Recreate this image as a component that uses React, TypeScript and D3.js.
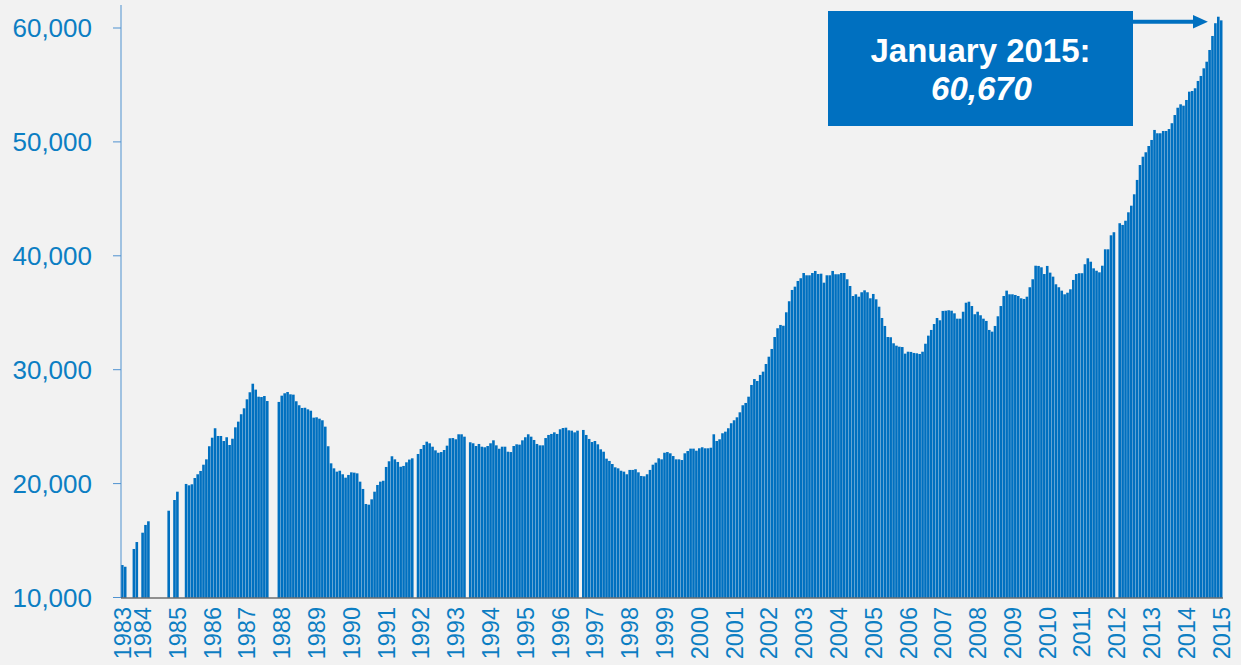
import React from "react";
import * as d3 from "d3";

// Monthly series, June 1983 .. January 2015 (null = no bar)
const START_YEAR = 1983;
const START_MONTH = 6;
const values: (number | null)[] = [
  // 1983 Jun-Dec
  12850, 12700, null, null, 14260, 14870, null,
  // 1984
  15690, 16370, 16690, null, null, null, null, null, null, 17620, null, 18560,
  // 1985
  19290, null, null, 19970, 19850, 19940, 20490, 20820, 21110, 21660, 22130, 23280,
  // 1986
  24030, 24860, 24180, 24180, 23740, 24070, 23390, 23940, 24940, 25440, 26090, 26610,
  // 1987
  27400, 28020, 28770, 28250, 27630, 27600, 27690, 27250, null, null, null, 27170,
  // 1988
  27720, 27930, 28040, 27840, 27810, 27230, 26880, 26640, 26660, 26520, 26400, 25790,
  // 1989
  25820, 25700, 25560, 25000, 23280, 21780, 21340, 21050, 21130, 20820, 20520, 20760,
  // 1990
  20990, 20960, 20900, 20170, 19530, 18210, 18150, 18620, 19290, 19880, 20170, 20250,
  // 1991
  21460, 21960, 22400, 22130, 21900, 21480, 21550, 21870, 22110, 22220, null, 22600,
  // 1992
  23040, 23390, 23680, 23540, 23240, 22920, 22710, 22770, 22950, 23330, 23980, 24000,
  // 1993
  23890, 24330, 24330, 24120, null, 23630, 23540, 23300, 23480, 23240, 23190, 23300,
  // 1994
  23540, 23800, 23360, 23060, 23240, 23240, 22800, 22770, 23300, 23450, 23420, 23800,
  // 1995
  24070, 24330, 24120, 23830, 23480, 23360, 23360, 24000, 24270, 24360, 24500, 24360,
  // 1996
  24770, 24880, 24910, 24680, 24650, 24500, 24650, null, 24710, 24270, 23920, 23650,
  // 1997
  23740, 23450, 23010, 22800, 22190, 21990, 21720, 21430, 21340, 21130, 21050, 20820,
  // 1998
  21200, 21200, 21260, 20990, 20670, 20640, 20820, 21200, 21660, 21840, 22220, 22130,
  // 1999
  22710, 22770, 22660, 22420, 22130, 22130, 22070, 22660, 22860, 23070, 23070, 22890,
  // 2000
  23100, 23190, 23100, 23100, 23150, 24330, 23740, 23890, 24420, 24560, 24860, 25300,
  // 2001
  25560, 25820, 26260, 26880, 27080, 27630, 28660, 29180, 29010, 29540, 29830, 30500,
  // 2002
  31140, 31820, 32870, 33640, 33930, 33860, 35040, 36010, 37000, 37290, 37790, 38030,
  // 2003
  38490, 38290, 38290, 38490, 38670, 38400, 38430, 37640, 38290, 38290, 38670, 38380,
  // 2004
  38380, 38490, 38490, 37940, 37350, 36470, 36620, 36410, 36800, 36970, 36800, 36270,
  // 2005
  36650, 36180, 35530, 34540, 33840, 32870, 32850, 32320, 32110, 32020, 31990, 31410,
  // 2006
  31580, 31560, 31470, 31440, 31380, 31580, 32280, 32990, 33490, 34010, 34540, 34340,
  // 2007
  35160, 35180, 35220, 35180, 34950, 34480, 34480, 35090, 35880, 35970, 35590, 34870,
  // 2008
  35090, 34780, 34480, 34280, 33490, 33340, 33840, 34690, 35590, 36470, 36940, 36620,
  // 2009
  36620, 36560, 36470, 36270, 36210, 36410, 37240, 37940, 39130, 39110, 38990, 38400,
  // 2010
  39110, 38520, 38170, 37500, 37240, 36940, 36620, 36760, 37060, 37880, 38400, 38470,
  // 2011
  38470, 39260, 39780, 39480, 38900, 38690, 38550, 39130, 40570, 40570, 41800, 42070,
  // 2012
  null, 42860, 42710, 43080, 43820, 44400, 45400, 46660, 47970, 48700, 49090, 49640,
  // 2013
  50170, 51050, 50760, 50760, 50960, 50960, 51130, 51640, 52360, 53000, 53300, 53180,
  // 2014
  53680, 54410, 54470, 54710, 55350, 55790, 56460, 57040, 58070, 59300, 60420, 60990,
  // 2015 Jan
  60670,
];

const categories: string[] = values.map((_, i) => {
  const m = START_MONTH - 1 + i;
  return `${START_YEAR + Math.floor(m / 12)}-${String((m % 12) + 1).padStart(2, "0")}`;
});

const yearLabels: string[] = d3.range(1983, 2016).map(String);
const yTicks: number[] = [10000, 20000, 30000, 40000, 50000, 60000];
const calloutTitle = "January 2015:";
const calloutValue = "60,670";

const W = 1241;
const H = 665;
const FONT = "'Liberation Sans', Arial, Helvetica, sans-serif";
const BAR = "#0070C0";
const LABEL = "#0C7EC3";

export default function App() {
  const x = d3
    .scaleBand<number>()
    .domain(d3.range(values.length))
    .range([121, 1222.5])
    .paddingInner(0.1)
    .paddingOuter(0);
  const y = d3.scaleLinear().domain([10000, 60000]).range([597.5, 28]);
  const fmt = d3.format(",");

  const labelIndex = (yr: string) =>
    yr === String(START_YEAR) ? 0 : categories.indexOf(`${yr}-01`);

  const last = values.length - 1;

  return (
    <div style={{ position: "absolute", left: 0, top: 0 }}>
      <svg width={W} height={H} style={{ display: "block", background: "#F2F2F2" }}>
        <rect x={0} y={0} width={W} height={H} fill="#F2F2F2" />
        {/* bars */}
        <g>
          {values.map((v, i) =>
            v == null ? null : (
              <rect
                key={i}
                x={x(i)}
                y={y(v)}
                width={x.bandwidth()}
                height={y(10000) - y(v)}
                fill={BAR}
              />
            )
          )}
        </g>
        {/* y axis */}
        <line x1={121} x2={121} y1={5} y2={598} stroke="#4F92D0" strokeWidth={1} />
        {yTicks.map((t) => (
          <g key={t}>
            <line x1={113} x2={121} y1={y(t)} y2={y(t)} stroke="#4F92D0" strokeWidth={1} />
            <text
              x={92}
              y={y(t)}
              dy="0.36em"
              textAnchor="end"
              fontFamily={FONT}
              fontSize={26}
              fill={LABEL}
            >
              {fmt(t)}
            </text>
          </g>
        ))}
        {/* x axis */}
        <line x1={121} x2={1223} y1={598} y2={598} stroke="#2e2e2e" strokeWidth={1} />
        {yearLabels.map((yr) => {
          const i = labelIndex(yr);
          const cx = (x(i) as number) + x.bandwidth() / 2;
          return (
            <text
              key={yr}
              transform={`translate(${cx},607) rotate(-90)`}
              dy="0.36em"
              textAnchor="end"
              fontFamily={FONT}
              fontSize={23.5}
              fill={LABEL}
            >
              {yr}
            </text>
          );
        })}
        {/* callout */}
        <rect x={828} y={11} width={305} height={115} fill={BAR} />
        <text
          x={980.5}
          y={62}
          textAnchor="middle"
          fontFamily={FONT}
          fontWeight="bold"
          fontSize={33}
          fill="#ffffff"
        >
          {calloutTitle}
        </text>
        <text
          x={981.5}
          y={99.5}
          textAnchor="middle"
          fontFamily={FONT}
          fontWeight="bold"
          fontStyle="italic"
          fontSize={33}
          fill="#ffffff"
        >
          {calloutValue}
        </text>
        <line x1={1133} x2={1195} y1={21.7} y2={21.7} stroke={BAR} strokeWidth={4} />
        <polygon
          points={`1193,15 ${(x(last) as number) - 12},21.7 1193,28.4`}
          fill={BAR}
        />
      </svg>
    </div>
  );
}
